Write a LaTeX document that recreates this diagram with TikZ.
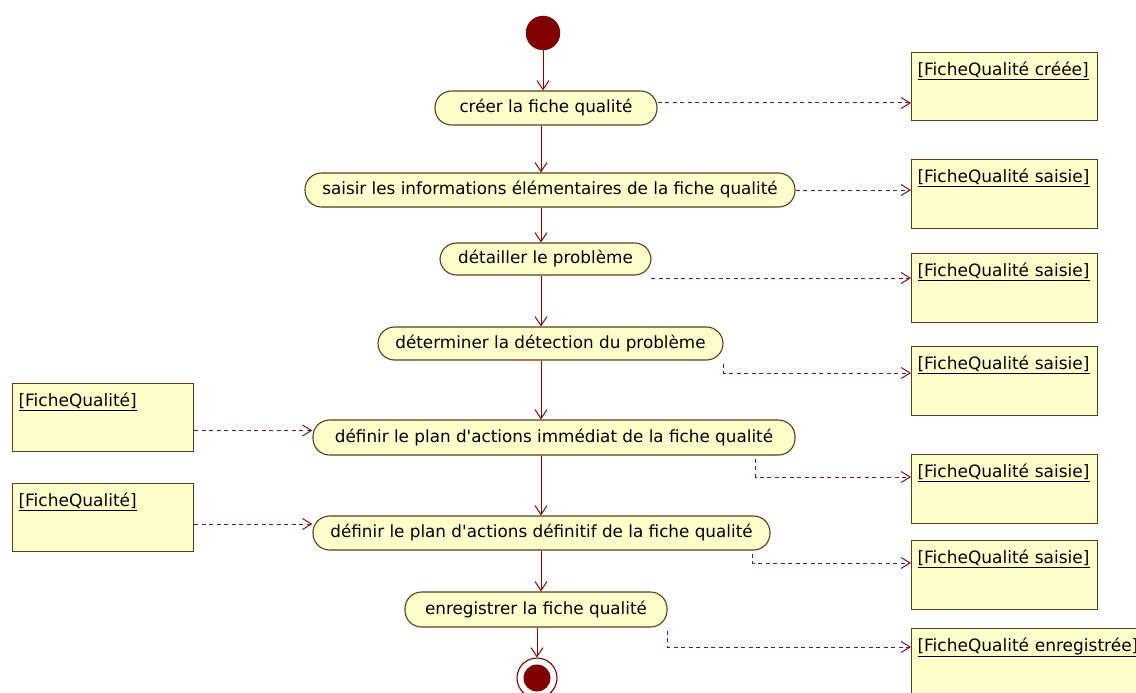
\documentclass[tikz,border=0pt]{standalone}
\usepackage{fontspec}
\setmainfont{DejaVu Sans}
\usetikzlibrary{arrows.meta,calc}
\definecolor{pillfill}{RGB}{255,255,204}
\definecolor{brd}{RGB}{90,60,30}
\definecolor{maroonc}{RGB}{128,0,0}
\definecolor{depc}{RGB}{120,20,50}
\newcommand\objtext[2]{\parbox[t][#1][t]{\linewidth}{\raggedright\underline{#2}}}
\newcommand\apos{\textquotesingle}
\begin{document}
\begin{tikzpicture}[x=1pt,y=-1pt,
  pill/.style={draw=brd, fill=pillfill, rounded corners=16.5pt, minimum height=34pt,
    inner sep=0pt, font=\fontsize{16.8}{19}\selectfont, line width=1.1pt},
  obj/.style={draw=brd, fill=pillfill, anchor=north west, inner xsep=6pt, inner ysep=9pt,
    font=\fontsize{17}{19}\selectfont, line width=1.1pt, align=left},
  flow/.style={draw=maroonc, line width=1pt, -{Straight Barb[length=9pt,width=12pt,line width=1pt]}},
  dep/.style={draw=depc, line width=1pt, dash pattern=on 4pt off 3.5pt,
    -{Straight Barb[length=9pt,width=11pt,line width=1pt]}}]
\useasboundingbox (0,0) rectangle (1136,693);
\clip (0,0) rectangle (1136,693);

\coordinate (fx) at (541,0);

% initial node
\node[circle, fill=maroonc, draw=maroonc, minimum size=34pt, inner sep=0pt] (s) at (543,33) {};

% activities
\node[pill, minimum width=222pt] (p1) at (546,108) {créer la fiche qualité};
\node[pill, minimum width=490pt] (p2) at (550,190) {saisir les informations élémentaires de la fiche qualité};
\node[pill, minimum width=211pt, minimum height=32pt] (p3) at (545.5,259) {détailler le problème};
\node[pill, minimum width=345pt, minimum height=33pt] (p4) at (550.5,343.5) {déterminer la détection du problème};
\node[pill, minimum width=482pt, minimum height=35pt] (p5) at (554,437.5) {définir le plan d\apos actions immédiat de la fiche qualité};
\node[pill, minimum width=457pt] (p6) at (541.5,533) {définir le plan d\apos actions définitif de la fiche qualité};
\node[pill, minimum width=262pt, minimum height=35pt] (p7) at (536,609.5) {enregistrer la fiche qualité};

% final node
\node[circle, draw=maroonc, fill=white, line width=1.1pt, minimum size=40pt, inner sep=0pt] (e) at (537,678) {};
\node[circle, fill=maroonc, minimum size=27pt, inner sep=0pt] (ei) at (e.center) {};

% object nodes, right
\node[obj, text width=174pt, minimum height=68pt] (b1) at (911,52) {\objtext{50pt}{[FicheQualité créée]}};
\node[obj, text width=174pt, minimum height=69pt] (b2) at (911,159) {\objtext{51pt}{[FicheQualité saisie]}};
\node[obj, text width=174pt, minimum height=69pt] (b3) at (911,253) {\objtext{51pt}{[FicheQualité saisie]}};
\node[obj, text width=174pt, minimum height=69pt] (b4) at (911,346) {\objtext{51pt}{[FicheQualité saisie]}};
\node[obj, text width=174pt, minimum height=69pt] (b5) at (911,454) {\objtext{51pt}{[FicheQualité saisie]}};
\node[obj, text width=174pt, minimum height=69pt] (b6) at (911,540) {\objtext{51pt}{[FicheQualité saisie]}};
\node[obj, text width=240pt, minimum height=69pt] (b7) at (911,628) {\objtext{51pt}{[FicheQualité enregistrée]}};

% object nodes, left
\node[obj, text width=169pt, minimum height=68pt] (l1) at (12,383) {\objtext{50pt}{[FicheQualité]}};
\node[obj, text width=169pt, minimum height=68pt] (l2) at (12,483) {\objtext{50pt}{[FicheQualité]}};

% control flow
\draw[flow] (s.south) -- (p1.north -| s);
\draw[flow] (p1.south -| fx) -- (p2.north -| fx);
\draw[flow] (p2.south -| fx) -- (p3.north -| fx);
\draw[flow] (p3.south -| fx) -- (p4.north -| fx);
\draw[flow] (p4.south -| fx) -- (p5.north -| fx);
\draw[flow] (p5.south -| fx) -- (p6.north -| fx);
\draw[flow] (p6.south -| fx) -- (p7.north -| fx);
\draw[flow] (p7.south -| e) -- (e.north);

% object flows, right
\draw[dep] ([yshift=5pt]p1.east) -- ([yshift=5pt]b1.west |- p1.east);
\draw[dep] (p2.east) -- (b2.west |- p2.east);
\draw[dep] ([yshift=-3pt]p3.south east) |- ([yshift=-25pt]b3.north west);
\draw[dep] ([yshift=-3pt]p4.south east) |- ([yshift=-27pt]b4.north west);
\draw[dep] ($(p5.south east)+(-40,3)$) |- ([yshift=-23pt]b5.north west);
\draw[dep] ($(p6.south east)+(-18,3)$) |- ([yshift=-23pt]b6.north west);
\draw[dep] ([yshift=-3pt]p7.south east) |- ([yshift=-19pt]b7.north west);

% object flows, left
\draw[dep] ([yshift=7pt]l1.east |- p5.west) -- ([yshift=7pt]p5.west);
\draw[dep] ([yshift=9pt]l2.east |- p6.west) -- ([yshift=9pt]p6.west);
\end{tikzpicture}
\end{document}
